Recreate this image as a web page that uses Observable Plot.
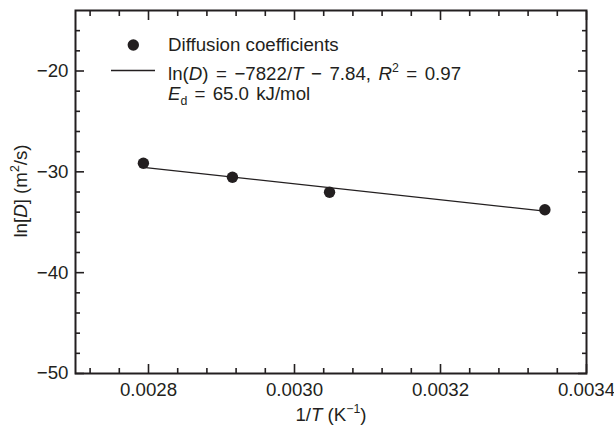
<!DOCTYPE html>
<html><head><meta charset="utf-8">
<script src="https://cdn.jsdelivr.net/npm/d3@7"></script>
<script src="https://cdn.jsdelivr.net/npm/@observablehq/plot@0.6"></script>
<style>body{margin:0;background:#fff} svg{display:block}</style>
</head><body><div id="chart"></div>
<script>
// measured data: 1/T (K^-1) and ln(D)
const invT = [0.002793, 0.002915, 0.003048, 0.003343];
const lnD = [-29.15, -30.53, -32.02, -33.76];
// fitted line endpoints, ln(D) = -7822/T - 7.84
const fitInvT = [0.002793, 0.003343];
const fitLnD = [-29.55, -33.9];
// ticks
const xMajor = [0.0028, 0.0030, 0.0032, 0.0034];
const xMinor = [0.00272, 0.00276, 0.00284, 0.00288, 0.00292, 0.00296, 0.00304, 0.00308, 0.00312, 0.00316, 0.00324, 0.00328, 0.00332, 0.00336];
const yMajor = [-50, -40, -30, -20];
const yMinor = [-48, -46, -44, -42, -38, -36, -34, -32, -28, -26, -24, -22, -18, -16];
const xDomain = [0.0027, 0.0034];
const yDomain = [-50, -14];

const INK = "#231f20";
const FS = 18.7;
const points = invT.map((x, i) => ({x, y: lnD[i]}));
const fit = fitInvT.map((x, i) => ({x, y: fitLnD[i]}));

const tk = {fill: "none", label: null, stroke: INK, strokeWidth: 1.6};
const MJ = 9, MN = 5;
const plot = Plot.plot({
  width: 614, height: 426,
  marginLeft: 75, marginRight: 28, marginTop: 10, marginBottom: 53,
  style: {fontFamily: "'Liberation Sans', Arial, sans-serif", fontSize: FS + "px", color: INK, background: "#fff"},
  x: {domain: xDomain},
  y: {domain: yDomain},
  marks: [
    Plot.axisX(xMajor, {anchor: "bottom", tickSize: 0, tickPadding: 9, tickFormat: d => d.toFixed(4), label: null, fill: INK}),
    Plot.axisY(yMajor, {anchor: "left", tickSize: 0, tickPadding: 7, tickFormat: d => (d < 0 ? "\u2212" : "") + Math.abs(d), label: null, fill: INK}),
    Plot.axisX(xMajor, {anchor: "bottom", tickSize: MJ, dy: -MJ, ...tk}),
    Plot.axisX(xMinor, {anchor: "bottom", tickSize: MN, dy: -MN, ...tk}),
    Plot.axisX(xMajor, {anchor: "top", tickSize: MJ, dy: MJ, ...tk}),
    Plot.axisX(xMinor, {anchor: "top", tickSize: MN, dy: MN, ...tk}),
    Plot.axisY(yMajor, {anchor: "left", tickSize: MJ, dx: MJ, ...tk}),
    Plot.axisY(yMinor, {anchor: "left", tickSize: MN, dx: MN, ...tk}),
    Plot.axisY(yMajor, {anchor: "right", tickSize: MJ, dx: -MJ, ...tk}),
    Plot.axisY(yMinor, {anchor: "right", tickSize: MN, dx: -MN, ...tk}),
    Plot.frame({stroke: INK, strokeWidth: 2}),
    Plot.line(fit, {x: "x", y: "y", stroke: INK, strokeWidth: 1.3}),
    Plot.dot(points, {x: "x", y: "y", r: 5.7, fill: INK, stroke: "none"})
  ]
});
document.getElementById("chart").appendChild(plot);

const svg = d3.select(plot);
function rich(x, y, parts, opts = {}) {
  const size = opts.size || FS;
  const t = svg.append("text")
    .attr("x", x).attr("y", y)
    .attr("fill", INK)
    .attr("font-size", size)
    .attr("text-anchor", opts.anchor || "start")
    .style("white-space", "pre");
  if (opts.wordSpacing) t.style("word-spacing", opts.wordSpacing + "px");
  if (opts.transform) t.attr("transform", opts.transform).attr("x", 0).attr("y", 0);
  let shift = 0;
  for (const [s, kind] of parts) {
    const ts = t.append("tspan").text(s);
    let target = 0;
    if (kind === "sup") target = -0.42 * size;
    if (kind === "sub") target = 0.28 * size;
    ts.attr("dy", target - shift);
    shift = target;
    if (kind === "i") ts.attr("font-style", "italic");
    if (kind === "sup" || kind === "sub") ts.attr("font-size", size * 0.66);
  }
  return t;
}

// axis titles
rich(331, 421, [["1/"], ["T", "i"], [" (K"], ["\u22121", "sup"], [")"]], {anchor: "middle"});
rich(0, 0, [["ln["], ["D", "i"], ["] (m"], ["2", "sup"], ["/s)"]], {anchor: "middle", transform: "translate(27,191) rotate(-90)"});

// legend
svg.append("circle").attr("cx", 133.3).attr("cy", 45).attr("r", 5.7).attr("fill", INK);
svg.append("line").attr("x1", 111).attr("x2", 155).attr("y1", 70.5).attr("y2", 70.5).attr("stroke", INK).attr("stroke-width", 1.3);
rich(168, 51, [["Diffusion coefficients"]]);
rich(168, 80, [["ln("], ["D", "i"], [") = \u22127822/"], ["T", "i"], [" \u2212 7.84, "], ["R", "i"], ["2", "sup"], [" = 0.97"]], {wordSpacing: 2.3});
rich(168, 100, [["E", "i"], ["d", "sub"], [" = 65.0 kJ/mol"]], {wordSpacing: 2});
</script>
</body></html>
